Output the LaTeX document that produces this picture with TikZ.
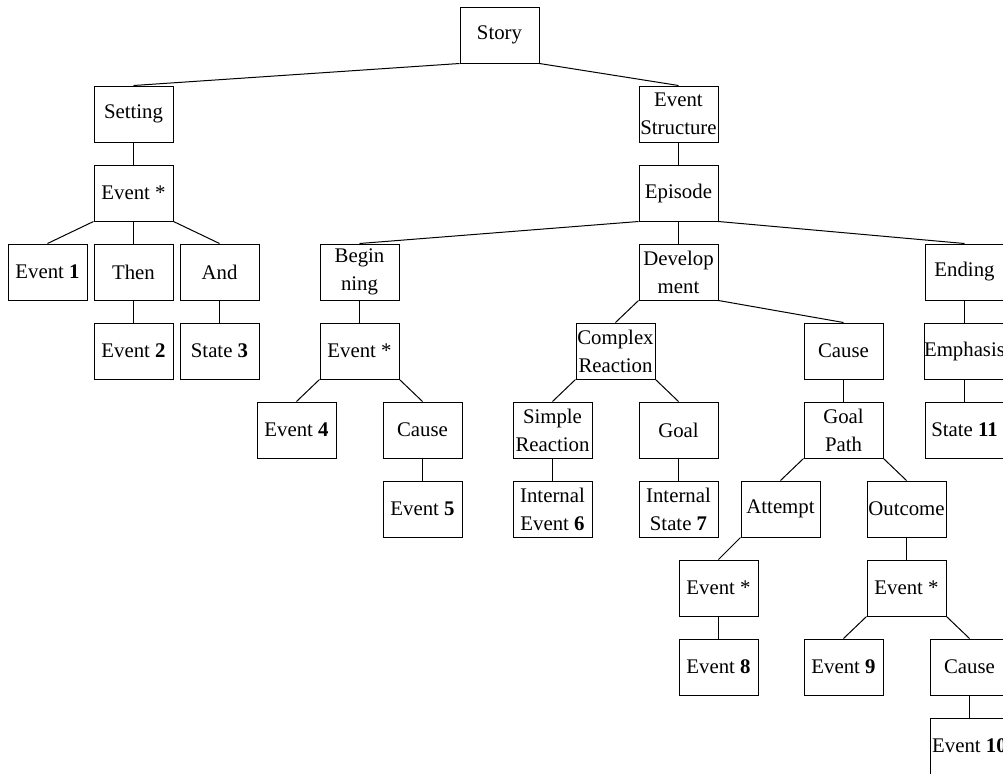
\documentclass[tikz,border=0pt]{standalone}
\usepackage{fontspec}
\setmainfont{Liberation Serif}
\usepackage{tikz}

\begin{document}
\begin{tikzpicture}[x=0.5pt, y=-0.5pt, line width=0.5pt,
  box/.style={draw, rectangle, minimum width=39.5pt, minimum height=28pt, inner sep=0pt,
    align=center, font=\fontsize{10.4}{14}\selectfont}]
\clip (0,0) rectangle (1003,773);
\node[box] (story) at (499.5,35) {Story};
\node[box] (setting) at (133.5,114) {Setting};
\node[box] (evstruct) at (678.5,114) {Event\\Structure};
\node[box] (evset) at (133.5,193) {Event *};
\node[box] (episode) at (678.5,193) {Episode};
\node[box] (ev1) at (47.5,272) {Event \textbf{1}};
\node[box] (then) at (133.5,272) {Then};
\node[box] (and) at (219.5,272) {And};
\node[box] (begin) at (359.5,272) {Begin\\ning};
\node[box] (devel) at (678.5,272) {Develop\\ment};
\node[box] (ending) at (964.5,272) {Ending};
\node[box] (ev2) at (133.5,351) {Event \textbf{2}};
\node[box] (st3) at (219.5,351) {State \textbf{3}};
\node[box] (evbegin) at (359.5,351) {Event *};
\node[box] (complex) at (615.5,351) {Complex\\Reaction};
\node[box] (causedev) at (843.5,351) {Cause};
\node[box] (emph) at (964.5,351) {Emphasis};
\node[box] (ev4) at (296.5,430) {Event \textbf{4}};
\node[box] (causebegin) at (422.5,430) {Cause};
\node[box] (simple) at (552.5,430) {Simple\\Reaction};
\node[box] (goal) at (678.5,430) {Goal};
\node[box] (goalpath) at (843.5,430) {Goal\\Path};
\node[box] (st11) at (964.5,430) {State \textbf{11}};
\node[box] (ev5) at (422.5,509) {Event \textbf{5}};
\node[box] (intev6) at (552.5,509) {Internal\\Event \textbf{6}};
\node[box] (intst7) at (678.5,509) {Internal\\State \textbf{7}};
\node[box] (attempt) at (780.5,509) {Attempt};
\node[box] (outcome) at (906.5,509) {Outcome};
\node[box] (evattempt) at (718.5,588) {Event *};
\node[box] (evout) at (906.5,588) {Event *};
\node[box] (ev8) at (718.5,667) {Event \textbf{8}};
\node[box] (ev9) at (843.5,667) {Event \textbf{9}};
\node[box] (causeout) at (969.5,667) {Cause};
\node[box] (ev10) at (969.5,746) {Event \textbf{10}};
\foreach \a/\b in {story/setting, evset/ev1, episode/begin, evbegin/ev4, devel/complex,
    complex/simple, goalpath/attempt, attempt/evattempt, evout/ev9}
  \draw (\a.south west) -- (\b.north);
\foreach \a/\b in {story/evstruct, evset/and, episode/ending, evbegin/causebegin, devel/causedev,
    complex/goal, goalpath/outcome, evout/causeout}
  \draw (\a.south east) -- (\b.north);
\foreach \a/\b in {setting/evset, evstruct/episode, evset/then, then/ev2, and/st3, episode/devel,
    begin/evbegin, causebegin/ev5, ending/emph, emph/st11, causedev/goalpath, simple/intev6,
    goal/intst7, outcome/evout, evattempt/ev8, causeout/ev10}
  \draw (\a.south) -- (\b.north);
\end{tikzpicture}
\end{document}
